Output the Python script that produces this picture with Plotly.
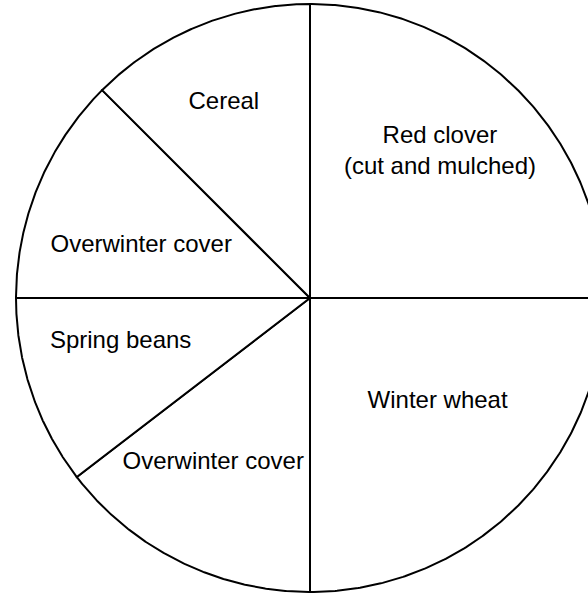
import numpy as np
import plotly.graph_objects as go

# Data: crop rotation (months), clockwise from 12 o'clock
slice_labels = ["Red clover<br>(cut and mulched)", "Winter wheat", "Overwinter cover",
                "Spring beans", "Overwinter cover", "Cereal"]
slice_values = [3.0, 3.0, 1.75, 1.25, 1.5, 1.5]

# Label anchor positions (fraction of radius, x right / y up) - styling only
label_pos_x = [0.442, 0.434, -0.329, -0.644, -0.574, -0.293]
label_pos_y = [0.496, -0.354, -0.561, -0.150, 0.178, 0.663]

W, H = 588, 594
CX, CY, R = 310, 298, 294  # pixel centre and radius

total = sum(slice_values)
fig = go.Figure()
start = 0.0
for lab, val in zip(slice_labels, slice_values):
    end = start + val / total * 2 * np.pi
    th = np.linspace(start, end, 240)
    xs = np.concatenate([[0], np.sin(th), [0]])
    ys = np.concatenate([[0], np.cos(th), [0]])
    fig.add_trace(go.Scatter(x=xs, y=ys, mode="lines", fill="toself",
                             fillcolor="white", line=dict(color="black", width=2),
                             hoverinfo="skip", showlegend=False))
    start = end

fig.add_trace(go.Scatter(x=label_pos_x, y=label_pos_y, mode="text", text=slice_labels,
                         textposition="middle center",
                         textfont=dict(family="Liberation Sans, Arial", size=24, color="black"),
                         hoverinfo="skip", showlegend=False))

fig.update_layout(
    width=W, height=H, margin=dict(l=0, r=0, t=0, b=0),
    paper_bgcolor="white", plot_bgcolor="white",
    xaxis=dict(range=[-CX / R, (W - CX) / R], visible=False, fixedrange=True),
    yaxis=dict(range=[-(H - CY) / R, CY / R], visible=False, fixedrange=True),
)
fig.write_html("out.html", config={"displayModeBar": False},
               post_script="document.body.style.margin='0';document.body.style.overflow='hidden';")
